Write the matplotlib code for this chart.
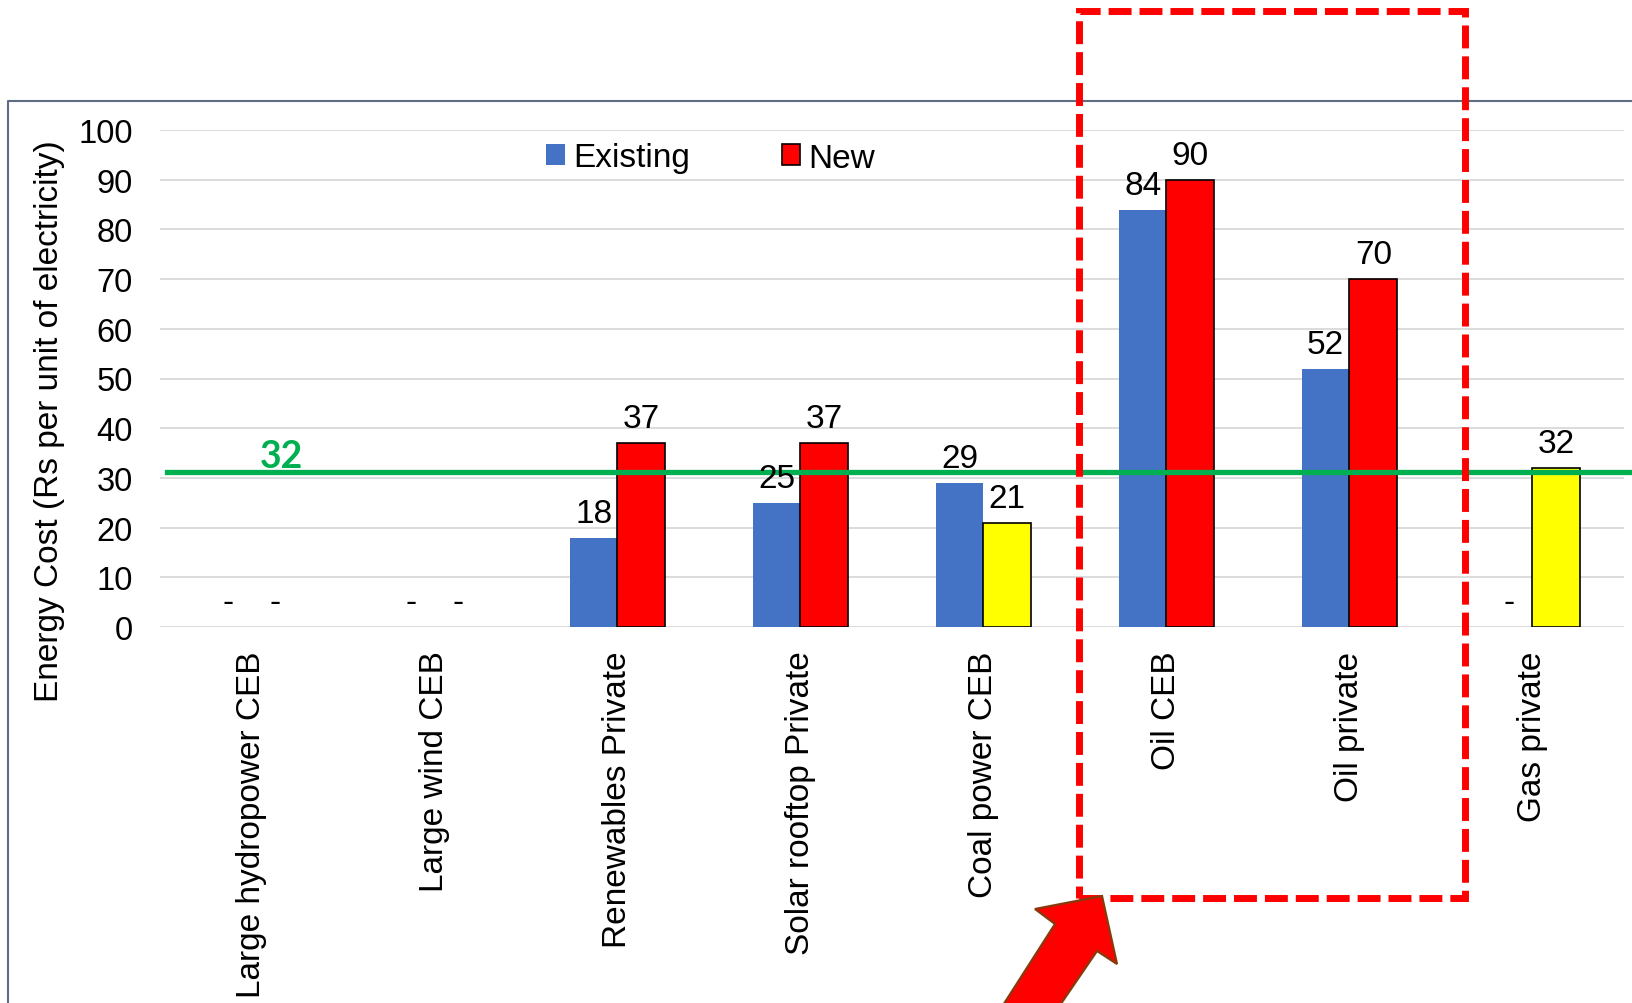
import matplotlib
matplotlib.use("Agg")
import matplotlib.pyplot as plt
from matplotlib.lines import Line2D
from matplotlib.patches import Rectangle, Polygon, Patch
import numpy as np

plt.rcParams['font.family'] = ['Liberation Sans', 'DejaVu Sans']

categories = ["Large hydropower CEB", "Large wind CEB", "Renewables Private",
              "Solar rooftop Private", "Coal power CEB", "Oil CEB",
              "Oil private", "Gas private"]
existing = [0, 0, 18, 25, 29, 84, 52, 0]
new = [0, 0, 37, 37, 21, 90, 70, 32]
new_colors = ["#FF0000", "#FF0000", "#FF0000", "#FF0000", "#FFFF00",
              "#FF0000", "#FF0000", "#FFFF00"]
threshold_line = 31.2
threshold_label = "32"

W, H = 1633, 1004
fig = plt.figure(figsize=(W / 100, H / 100), dpi=100)

def fx(px):
    return px / W

def fy(py):
    return 1 - py / H

# axes placed so that the category band is 160..1624 px and 0..100 is 628..131 px
ax = fig.add_axes([fx(160), fy(628), fx(1624) - fx(160), fy(131) - fy(628)])

x = np.arange(len(categories))
bw = 0.26
ax.bar(x - bw / 2, existing, bw, color="#4472C4", zorder=3)
ax.bar(x + bw / 2, new, bw, color=new_colors, edgecolor="black",
       linewidth=[1.2 if v else 0 for v in new], zorder=3)

fs = 24
for xi, v in zip(x - bw / 2, existing):
    ax.annotate(str(v) if v else "-", (xi, v), xytext=(0, 11.5), textcoords="offset points",
                ha="center", va="baseline", fontsize=fs, zorder=5)
for xi, v in zip(x + bw / 2, new):
    ax.annotate(str(v) if v else "-", (xi, v), xytext=(0, 11.5), textcoords="offset points",
                ha="center", va="baseline", fontsize=fs, zorder=5)

ax.set_xlim(-0.5, len(categories) - 0.5)
ax.set_ylim(0, 100)
ax.set_yticks(np.arange(0, 101, 10))
ax.tick_params(axis="y", length=0, pad=19.5, labelsize=23.5)
ax.set_xticks(x)
ax.set_xticklabels(categories, rotation=90, fontsize=fs)
ax.tick_params(axis="x", length=0, pad=17)
ax.grid(axis="y", color="#D9D9D9", linewidth=1.3, zorder=0)
for s in ax.spines.values():
    s.set_visible(False)

# threshold line and its label
ax.plot([-0.46, 7.56], [threshold_line, threshold_line], color="#00B050",
        linewidth=3.8, clip_on=False, zorder=4)
fig.text(fx(282), fy(468), threshold_label, color="#00B050", fontsize=27,
         fontweight="bold", family="Lato", ha="center", va="baseline")

# legend
handles = [Patch(facecolor="#4472C4", edgecolor="none", label="Existing"),
           Patch(facecolor="#FF0000", edgecolor="black", linewidth=1.2, label="New")]
fig.legend(handles=handles, loc="center left", bbox_to_anchor=(fx(546), fy(159)),
           bbox_transform=fig.transFigure, ncol=2, frameon=False, fontsize=fs,
           handlelength=0.56, handleheight=0.6, handletextpad=0.25,
           columnspacing=2.75, borderpad=0, borderaxespad=0)

fig.text(fx(50), fy(702), "Energy Cost (Rs per unit of electricity)", rotation=90,
         fontsize=24, ha="center", va="bottom")

# slide frame
fig.add_artist(Line2D([fx(8), fx(8), fx(W + 5)], [fy(H + 5), fy(102), fy(102)],
                      transform=fig.transFigure, color="#5E6C84", linewidth=1.5))

# dashed highlight box
fig.add_artist(Rectangle((fx(1079), fy(899)), fx(1465) - fx(1079), fy(12) - fy(899),
                         transform=fig.transFigure, fill=False, edgecolor="#FF0000",
                         linewidth=5, linestyle=(0, (3.3, 1.15)), zorder=10))

# block arrow pointing at the box
arrow_px = [(1102, 897), (1117, 965), (1097, 952), (1030, 1050),
            (975, 1050), (1055, 925), (1035, 910)]
fig.add_artist(Polygon([(fx(a), fy(b)) for a, b in arrow_px], closed=True,
                       transform=fig.transFigure, facecolor="#FF0000",
                       edgecolor="#843C0C", linewidth=1.6, zorder=11))

fig.savefig("out.png", dpi=100)
